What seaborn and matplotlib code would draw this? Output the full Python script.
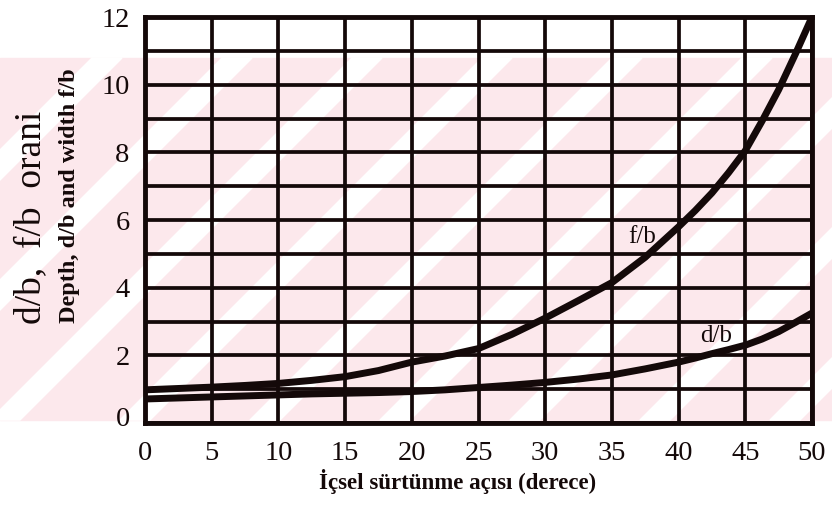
import matplotlib
matplotlib.use('Agg')
import pandas as pd
import matplotlib.pyplot as plt
import seaborn as sns
from matplotlib.patches import Rectangle, Polygon
from matplotlib.transforms import ScaledTranslation

# values
angle = [0, 2.5, 5, 7.5, 10, 12.5, 15, 17.5, 20, 22.5, 25,
         27.5, 30, 32.5, 35, 37.5, 40, 41.25, 42.5, 43.75, 45,
         46.25, 47.5, 48.75, 50]
f_b = [0.98, 1.02, 1.06, 1.11, 1.17, 1.26, 1.37, 1.55, 1.8, 1.98, 2.2,
       2.62, 3.1, 3.62, 4.15, 4.9, 5.8, 6.28, 6.8, 7.4, 8.05,
       8.92, 9.85, 10.9, 12.0]
d_b = [0.71, 0.74, 0.77, 0.80, 0.83, 0.86, 0.88, 0.90, 0.93, 0.98, 1.05,
       1.12, 1.2, 1.3, 1.42, 1.6, 1.8, 1.92, 2.05, 2.17, 2.3,
       2.48, 2.7, 2.97, 3.25]
x_ticks = [0, 5, 10, 15, 20, 25, 30, 35, 40, 45, 50]
y_ticks = [0, 2, 4, 6, 8, 10, 12]
y_grid = list(range(0, 13))

ink = '#140909'
pink = '#fce8ec'

sns.set_style('white')
plt.rcParams['font.family'] = ['Liberation Serif', 'DejaVu Serif']

W, H = 832, 505
fig = plt.figure(figsize=(W / 100, H / 100), dpi=100)


def fx(px):
    return px / W


def fy(py):
    return 1 - py / H


# faint watermark band behind the chart
fig.patches.append(Rectangle((0, fy(420)), 1, fy(58) - fy(420),
                             transform=fig.transFigure, color=pink, zorder=-10))
for x0 in range(-400, 900, 130):
    pts = [(fx(x0), fy(420)), (fx(x0 + 30), fy(420)),
           (fx(x0 + 392), fy(58)), (fx(x0 + 362), fy(58))]
    fig.patches.append(Polygon(pts, closed=True, transform=fig.transFigure,
                               color='white', zorder=-9))

ax = fig.add_axes([fx(145), fy(423), fx(812) - fx(145), fy(17) - fy(423)])
ax.patch.set_alpha(0)

n = len(angle)
df = pd.DataFrame({'angle': angle * 2,
                   'ratio': f_b + d_b,
                   'curve': ['f/b'] * n + ['d/b'] * n})
sns.lineplot(data=df, x='angle', y='ratio', hue='curve',
             palette={'f/b': ink, 'd/b': ink}, linewidth=5,
             legend=False, ax=ax)
for ln in ax.lines:
    ln.set_solid_joinstyle('round')
    ln.set_solid_capstyle('round')

ax.set_xlim(0, 50)
ax.set_ylim(0, 12)
ax.set_xticks(x_ticks)
ax.set_yticks(y_ticks)
ax.set_yticks(y_grid, minor=True)
ax.set_axisbelow(True)
ax.grid(which='both', color=ink, linewidth=2.7)
ax.tick_params(which='both', length=0, labelsize=20.5, colors=ink)
ax.tick_params(axis='y', pad=11)
ax.tick_params(axis='x', pad=13)
ax.set_xlabel('')
ax.set_ylabel('')
for s in ax.spines.values():
    s.set_visible(True)
    s.set_color(ink)
    s.set_linewidth(3.5)

# the "0" on the scan sits a little above the bottom line
lab0 = ax.yaxis.get_major_ticks()[0].label1
lab0.set_transform(lab0.get_transform() + ScaledTranslation(0, 0.07, fig.dpi_scale_trans))

ax.text(37.3, 5.5, 'f/b', fontsize=18, color=ink, ha='center', va='center')
ax.text(42.8, 2.57, 'd/b', fontsize=18, color=ink, ha='center', va='center')

fig.text(fx(31), fy(217), 'd/b,  f/b  orani', rotation=90, fontsize=27,
         color=ink, ha='center', va='center')
fig.text(fx(70), fy(196), 'Depth, d/b and width f/b', rotation=90,
         fontsize=17.5, fontweight='bold', color=ink, ha='center', va='center')
fig.text(fx(458), fy(482), 'İçsel sürtünme açısı (derece)', fontsize=16.5,
         fontweight='bold', color=ink, ha='center', va='center')

fig.savefig('out.png', dpi=100)
